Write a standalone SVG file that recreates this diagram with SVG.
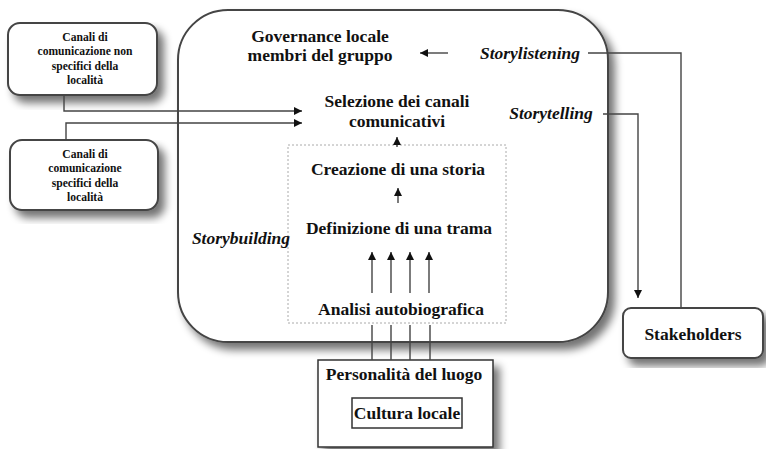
<svg xmlns="http://www.w3.org/2000/svg" width="766" height="449" viewBox="0 0 766 449">
  <defs>
    <filter id="shadow" x="-10%" y="-10%" width="130%" height="130%">
      <feGaussianBlur in="SourceAlpha" stdDeviation="4"/>
      <feOffset dx="6" dy="7" result="blur"/>
      <feComponentTransfer><feFuncA type="linear" slope="0.55"/></feComponentTransfer>
      <feMerge><feMergeNode/><feMergeNode in="SourceGraphic"/></feMerge>
    </filter>
    <marker id="arrow" viewBox="0 0 10 10" refX="10" refY="5" markerWidth="9" markerHeight="8" markerUnits="userSpaceOnUse" orient="auto">
      <path d="M0,0 L10,5 L0,10 z" fill="#111"/>
    </marker>
  </defs>
  <style>
    .box { fill: #fff; stroke: #444; stroke-width: 2; }
    .plain { fill: #fff; stroke: #333; stroke-width: 1.5; }
    .dotted { fill: none; stroke: #aaa; stroke-width: 1; stroke-dasharray: 2 2; }
    .link { fill: none; stroke: #444; stroke-width: 1.4; }
    .arr { marker-end: url(#arrow); }
    text { font-weight: 700; fill: #111; text-anchor: middle; }
    .big { font-size: 17.5px; }
    .small { font-size: 11.6px; }
    .it { font-style: italic; }
  </style>

  <rect width="766" height="449" fill="#fff"/>

  <g font-family="'Liberation Serif', 'Times New Roman', 'DejaVu Serif', serif">
  <!-- main area: local governance -->
  <g id="governance">
    <rect class="box" x="178" y="10" width="430" height="332" rx="50" ry="50" filter="url(#shadow)"/>
    <text class="big" x="320" y="42">Governance locale</text>
    <text class="big" x="320" y="61">membri del gruppo</text>
  </g>

  <g id="selezione">
    <text class="big" x="397" y="107">Selezione dei canali</text>
    <text class="big" x="397" y="127">comunicativi</text>
  </g>

  <g id="storybuilding">
    <rect class="dotted" x="288" y="145" width="218" height="178"/>
    <text class="big it" x="241" y="244">Storybuilding</text>
  </g>

  <g id="creazione">
    <text class="big" x="398" y="175">Creazione di una storia</text>
  </g>

  <g id="definizione">
    <text class="big" x="399" y="234">Definizione di una trama</text>
  </g>

  <g id="analisi">
    <text class="big" x="401" y="315">Analisi autobiografica</text>
  </g>

  <g id="label-storylistening">
    <text class="big it" x="530" y="59">Storylistening</text>
  </g>

  <g id="label-storytelling">
    <text class="big it" x="551" y="119">Storytelling</text>
  </g>

  <!-- channel boxes on the left -->
  <g id="canali-non-specifici">
    <rect class="box" x="8" y="23" width="149" height="72" rx="12" ry="12" filter="url(#shadow)"/>
    <text class="small" x="85" y="41">Canali di</text>
    <text class="small" x="85" y="55">comunicazione non</text>
    <text class="small" x="85" y="70">specifici della</text>
    <text class="small" x="85" y="84">località</text>
  </g>

  <g id="canali-specifici">
    <rect class="box" x="10" y="140" width="148" height="70" rx="12" ry="12" filter="url(#shadow)"/>
    <text class="small" x="85" y="158">Canali di</text>
    <text class="small" x="85" y="172">comunicazione</text>
    <text class="small" x="85" y="187">specifici della</text>
    <text class="small" x="85" y="201">località</text>
  </g>

  <g id="stakeholders">
    <rect class="box" x="623" y="308" width="140" height="50" rx="8" ry="8" filter="url(#shadow)"/>
    <text class="big" x="693" y="340">Stakeholders</text>
  </g>

  <g id="personalita">
    <rect class="plain" x="318" y="360" width="175" height="87" filter="url(#shadow)"/>
    <text class="big" x="404" y="380">Personalità del luogo</text>
  </g>

  <g id="cultura">
    <rect class="plain" x="352" y="398" width="110" height="30"/>
    <text class="big" x="407" y="419">Cultura locale</text>
  </g>
  </g>

  <!-- connectors -->
  <g id="connectors">
    <path class="link arr" d="M64,95 V111 H302"/>
    <path class="link arr" d="M66,140 V123 H302"/>
    <path class="link arr" d="M448,53 H420"/>
    <path class="link" d="M588,53 H681 V308"/>
    <path class="link arr" d="M603,114 H638 V298"/>
    <path class="link arr" d="M397,147 V137"/>
    <path class="link arr" d="M398,203 V188"/>
    <path class="link arr" d="M372,293 V252"/>
    <path class="link arr" d="M391,293 V252"/>
    <path class="link arr" d="M410,293 V252"/>
    <path class="link arr" d="M429,293 V252"/>
    <path class="link" d="M372,325 V360 M391,325 V360 M410,325 V360 M430,325 V360"/>
  </g>
</svg>
